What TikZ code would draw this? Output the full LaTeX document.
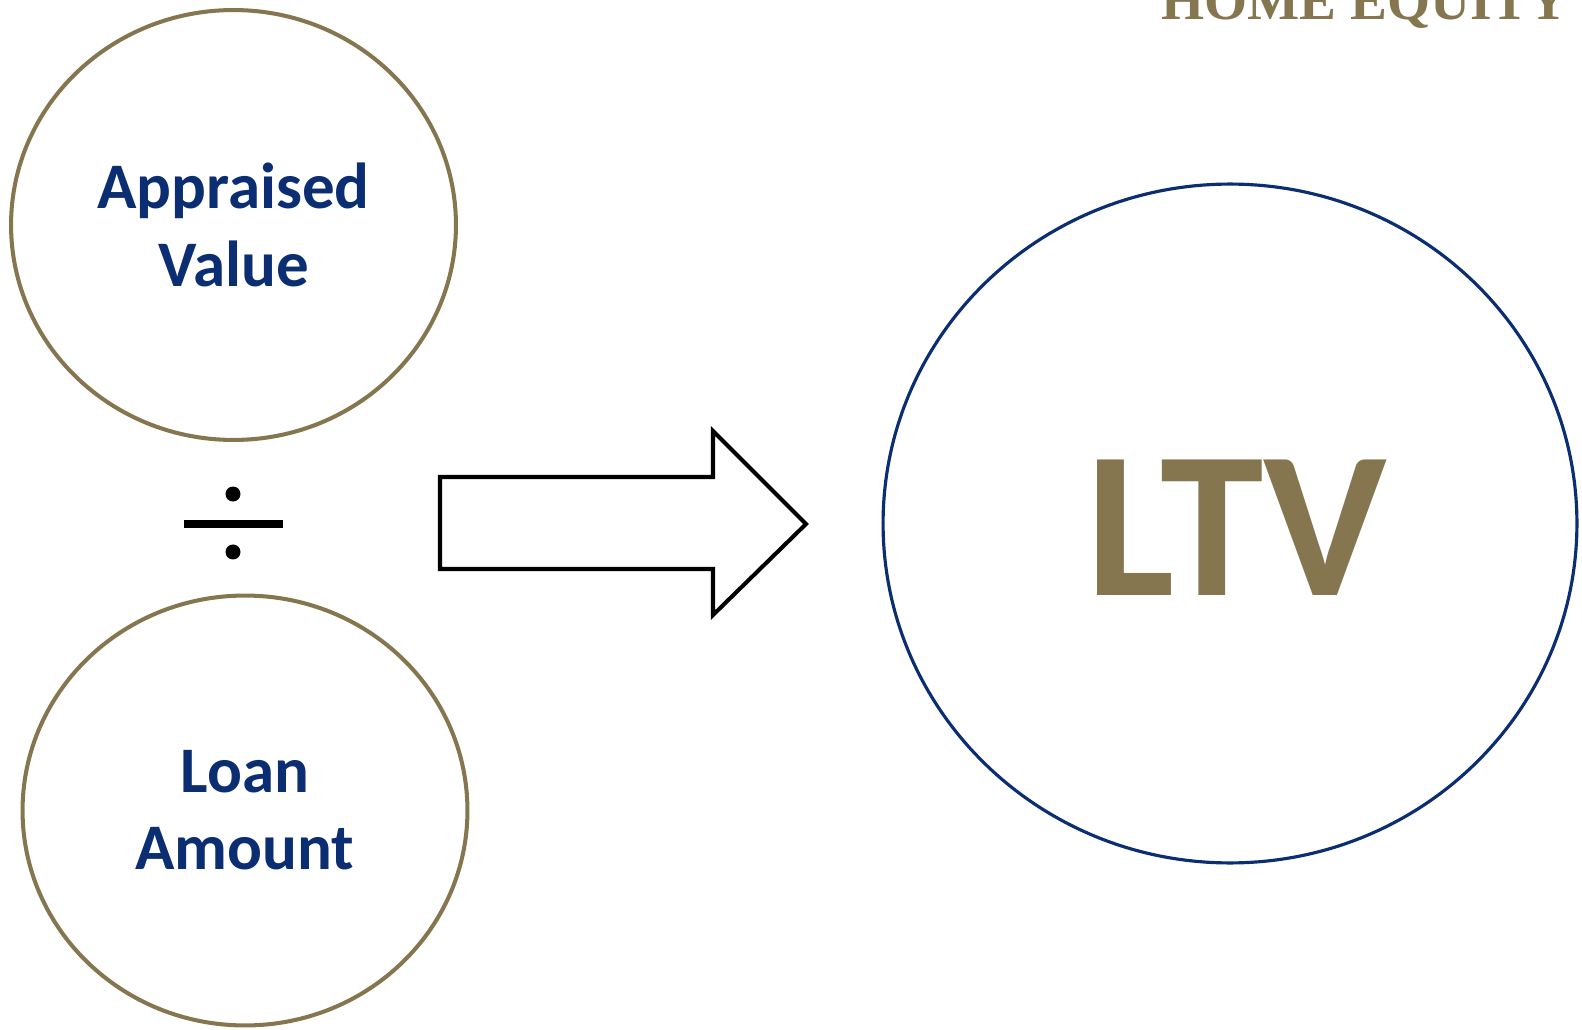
\documentclass[tikz,border=0pt]{standalone}
\usepackage{fontspec}
\setmainfont{Carlito}
\newfontfamily\headfont{Liberation Serif}
\usetikzlibrary{shapes.geometric}
\definecolor{gold}{HTML}{857650}
\definecolor{navy}{HTML}{0B2D72}

\begin{document}
\begin{tikzpicture}[x=0.02cm, y=-0.02cm,
		term/.style={ellipse, draw=gold, line width=2.3pt, inner sep=0pt,
			minimum width=8.9cm, minimum height=8.6cm, text=navy, align=center,
			font=\fontsize{37}{44}\selectfont\bfseries},
		result/.style={ellipse, draw=navy, line width=1.8pt, inner sep=0pt,
			minimum width=13.88cm, minimum height=13.58cm, text=gold,
			font=\fontsize{119}{119}\selectfont\bfseries}]
	\useasboundingbox (0,0) rectangle (1582,1030);
	\clip (0,0) rectangle (1582,1030);
	
	\node [anchor=base east, text=gold, inner sep=0pt,
		font=\headfont\fontsize{31.5}{32}\selectfont\bfseries] (title) at (1569,19.5) {HOME EQUITY};
	
	\node [term] (value) at (233.5,225) {Appraised\\Value};
	\node [term] (loan) at (245,810.5) {Loan\\Amount};
	\node [result] (ltv) at (1230,523.5) {};
	\node [text=gold, inner sep=0pt, font=\fontsize{119}{119}\selectfont\bfseries] (ltvtext) at (1237,528) {LTV};
	
	% division sign
	\coordinate (div) at (233,524);
	\fill ([yshift=0.6cm]div) circle (0.15cm);
	\fill ([yshift=-0.56cm]div) circle (0.15cm);
	\fill ([xshift=-0.98cm, yshift=-0.08cm]div) rectangle ([xshift=1.0cm, yshift=0.08cm]div);
	
	% block arrow
	\draw [line width=2.3pt, line join=miter]
		(440,477) -- (713,477) -- (713,431) -- (806,524) -- (713,615)
		-- (713,569) -- (440,569) -- cycle;
\end{tikzpicture}
\end{document}
